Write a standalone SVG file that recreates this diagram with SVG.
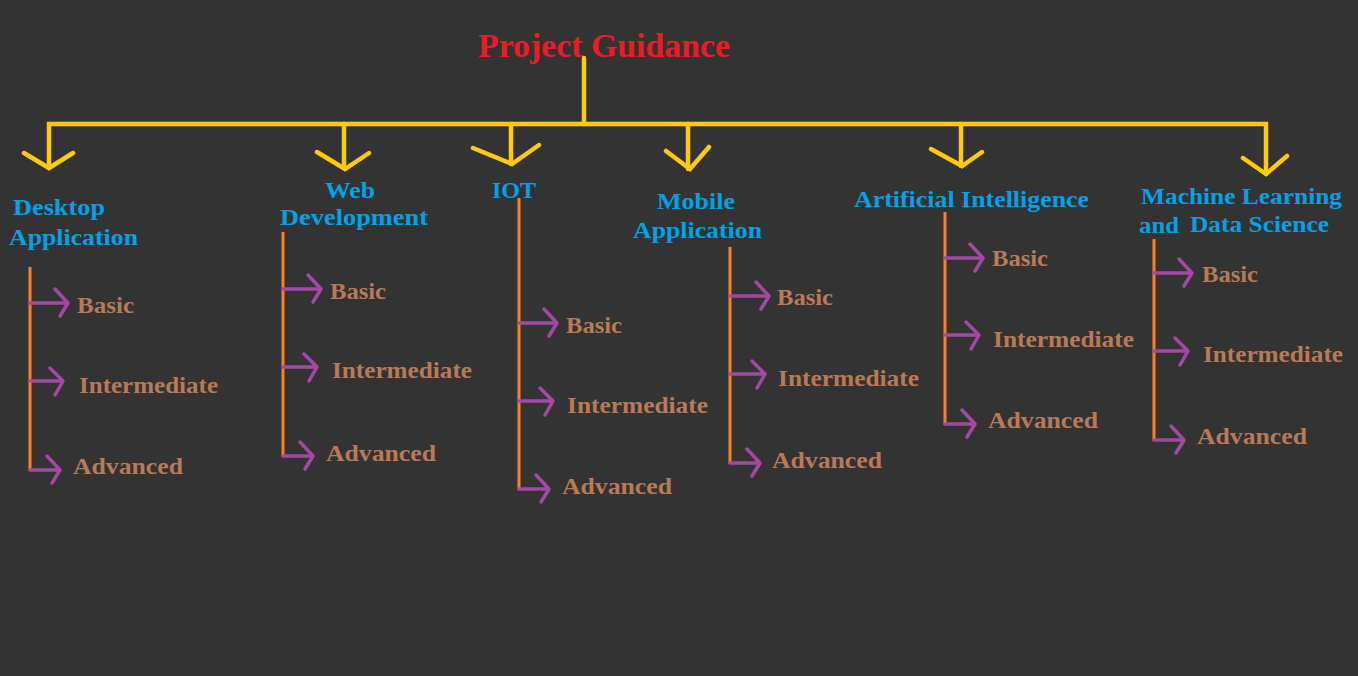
<svg xmlns="http://www.w3.org/2000/svg" width="1358" height="676" viewBox="0 0 1358 676">
<style>
.t{font-family:"Liberation Serif","Times New Roman",serif;font-weight:bold}
.title{fill:#ed1c24;font-size:33px}
.cat{fill:#00a2e8;font-size:24px}
.lvl{fill:#b97a57;font-size:24px}
.y{stroke:#ffc90e;stroke-width:4.5;fill:none;stroke-linecap:round;stroke-linejoin:miter}
.o{stroke:#ff7f27;stroke-width:3;fill:none}
.p{stroke:#a349a4;stroke-width:3.5;fill:none;stroke-linecap:round;stroke-linejoin:round}
</style>
<rect width="1358" height="676" fill="#333333"/>
<g id="root">
<text class="t title" x="478" y="57" textLength="252" lengthAdjust="spacingAndGlyphs">Project Guidance</text>
</g>
<g id="connectors">
<path class="y" d="M584 58V123M49 168V124H1266V174"/>
<path class="y" d="M344 124V168M511 124V164M688 124V169M961 124V166"/>
<path class="y" d="M24 153L49 168L73 153M317 152L345 169L369 153M473 148L512 164L539 145M666 151L690 169L709 147M931 149L962 166L982 152M1243 158L1266 174L1287 156"/>
<path class="o" d="M30 267V471M283 232V457M519 198V490M730 247V464M945 212V425M1154 239V441"/>
<path class="p" d="M30 303H68M55 289L68 303L60 316M30 381H63M50 368L63 381L55 395M30 470H60M47 456L60 470L52 483"/>
<path class="p" d="M283 289H321M308 275L321 289L313 302M283 367H317M304 354L317 367L309 381M283 456H313M300 442L313 456L305 469"/>
<path class="p" d="M519 323H557M544 309L557 323L549 336M519 401H553M540 388L553 401L545 415M519 489H549M536 475L549 489L541 502"/>
<path class="p" d="M730 296H769M756 282L769 296L761 309M730 374H765M752 361L765 374L757 388M730 463H760M747 449L760 463L752 476"/>
<path class="p" d="M945 258H983M970 244L983 258L975 271M945 335H979M966 322L979 335L971 349M945 424H975M962 410L975 424L967 437"/>
<path class="p" d="M1154 273H1192M1179 259L1192 273L1184 286M1154 351H1188M1175 338L1188 351L1180 365M1154 440H1184M1171 426L1184 440L1176 453"/>
</g>
<g id="desktop">
<text class="t cat" x="13" y="215" textLength="92" lengthAdjust="spacingAndGlyphs">Desktop</text>
<text class="t cat" x="9" y="245" textLength="129" lengthAdjust="spacingAndGlyphs">Application</text>
<text class="t lvl" x="77" y="313" textLength="57" lengthAdjust="spacingAndGlyphs">Basic</text>
<text class="t lvl" x="79" y="393" textLength="139" lengthAdjust="spacingAndGlyphs">Intermediate</text>
<text class="t lvl" x="73" y="474" textLength="110" lengthAdjust="spacingAndGlyphs">Advanced</text>
</g>
<g id="web">
<text class="t cat" x="325" y="198" textLength="50" lengthAdjust="spacingAndGlyphs">Web</text>
<text class="t cat" x="280" y="225" textLength="148" lengthAdjust="spacingAndGlyphs">Development</text>
<text class="t lvl" x="330" y="299" textLength="56" lengthAdjust="spacingAndGlyphs">Basic</text>
<text class="t lvl" x="332" y="378" textLength="140" lengthAdjust="spacingAndGlyphs">Intermediate</text>
<text class="t lvl" x="326" y="461" textLength="110" lengthAdjust="spacingAndGlyphs">Advanced</text>
</g>
<g id="iot">
<text class="t cat" x="492" y="198" textLength="44" lengthAdjust="spacingAndGlyphs">IOT</text>
<text class="t lvl" x="566" y="333" textLength="56" lengthAdjust="spacingAndGlyphs">Basic</text>
<text class="t lvl" x="567" y="413" textLength="141" lengthAdjust="spacingAndGlyphs">Intermediate</text>
<text class="t lvl" x="562" y="494" textLength="110" lengthAdjust="spacingAndGlyphs">Advanced</text>
</g>
<g id="mobile">
<text class="t cat" x="657" y="209" textLength="78" lengthAdjust="spacingAndGlyphs">Mobile</text>
<text class="t cat" x="633" y="238" textLength="129" lengthAdjust="spacingAndGlyphs">Application</text>
<text class="t lvl" x="777" y="305" textLength="56" lengthAdjust="spacingAndGlyphs">Basic</text>
<text class="t lvl" x="778" y="386" textLength="141" lengthAdjust="spacingAndGlyphs">Intermediate</text>
<text class="t lvl" x="772" y="468" textLength="110" lengthAdjust="spacingAndGlyphs">Advanced</text>
</g>
<g id="ai">
<text class="t cat" x="854" y="207" textLength="235" lengthAdjust="spacingAndGlyphs">Artificial Intelligence</text>
<text class="t lvl" x="992" y="266" textLength="56" lengthAdjust="spacingAndGlyphs">Basic</text>
<text class="t lvl" x="993" y="347" textLength="141" lengthAdjust="spacingAndGlyphs">Intermediate</text>
<text class="t lvl" x="988" y="428" textLength="110" lengthAdjust="spacingAndGlyphs">Advanced</text>
</g>
<g id="ml">
<text class="t cat" x="1141" y="204" textLength="201" lengthAdjust="spacingAndGlyphs">Machine Learning</text>
<text class="t cat" x="1139" y="233" textLength="40" lengthAdjust="spacingAndGlyphs">and</text>
<text class="t cat" x="1190" y="232" textLength="139" lengthAdjust="spacingAndGlyphs">Data Science</text>
<text class="t lvl" x="1202" y="282" textLength="56" lengthAdjust="spacingAndGlyphs">Basic</text>
<text class="t lvl" x="1203" y="362" textLength="140" lengthAdjust="spacingAndGlyphs">Intermediate</text>
<text class="t lvl" x="1197" y="444" textLength="110" lengthAdjust="spacingAndGlyphs">Advanced</text>
</g>
</svg>
